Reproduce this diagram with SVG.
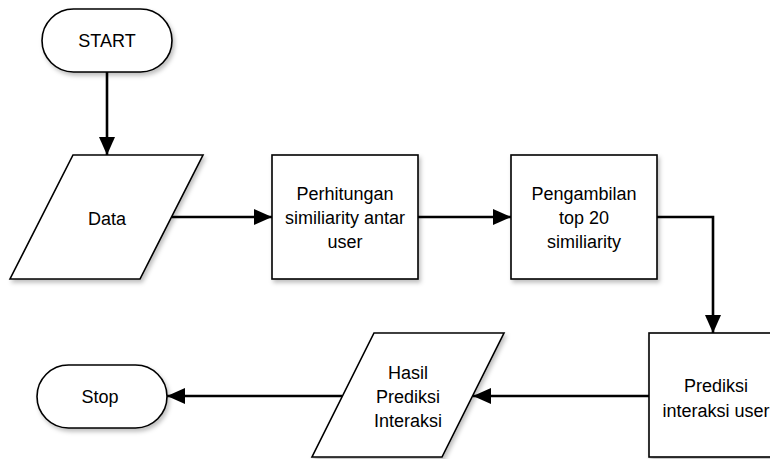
<svg xmlns="http://www.w3.org/2000/svg" width="770" height="459" viewBox="0 0 770 459">
<style>
.shape{fill:#ffffff;stroke:#000000;stroke-width:1.6;filter:url(#sh)}
.lbl{font-family:"Liberation Sans",Arial,sans-serif;font-size:18px;fill:#000000;text-anchor:middle}
.conn{fill:none;stroke:#000000;stroke-width:2.6}
</style>
<defs>
<filter id="sh" x="-10%" y="-10%" width="130%" height="130%">
<feDropShadow dx="2" dy="3" stdDeviation="2" flood-color="#000000" flood-opacity="0.25"/>
</filter>
<marker id="ah" markerUnits="userSpaceOnUse" markerWidth="19" markerHeight="17" refX="18" refY="8" orient="auto" viewBox="0 0 19 17">
<path d="M0,0 L18,8 L0,16 Z" fill="#000000"/>
</marker>
</defs>
<rect width="770" height="459" fill="#ffffff"/>
<g id="start">
<rect class="shape" x="42" y="9" width="130" height="63" rx="31.5" ry="31.5"/>
<text class="lbl" x="107" y="47">START</text>
</g>
<g id="data">
<polygon class="shape" points="73,155 203,155 140,279 10,279"/>
<text class="lbl" x="107" y="225">Data</text>
</g>
<g id="perhitungan">
<rect class="shape" x="272" y="155" width="146" height="124"/>
<text class="lbl" x="345" y="200">Perhitungan</text>
<text class="lbl" x="345" y="224">similiarity antar</text>
<text class="lbl" x="345" y="248">user</text>
</g>
<g id="pengambilan">
<rect class="shape" x="511" y="155" width="146" height="124"/>
<text class="lbl" x="584" y="200">Pengambilan</text>
<text class="lbl" x="584" y="224">top 20</text>
<text class="lbl" x="584" y="248">similiarity</text>
</g>
<g id="prediksi">
<rect class="shape" x="649" y="333" width="146" height="124"/>
<text class="lbl" x="716" y="392">Prediksi</text>
<text class="lbl" x="716" y="417">interaksi user</text>
</g>
<g id="hasil">
<polygon class="shape" points="374,333 504,333 442,457 312,457"/>
<text class="lbl" x="408" y="379">Hasil</text>
<text class="lbl" x="408" y="403">Prediksi</text>
<text class="lbl" x="408" y="427">Interaksi</text>
</g>
<g id="stop">
<rect class="shape" x="37" y="365" width="130" height="63" rx="31.5" ry="31.5"/>
<text class="lbl" x="100" y="403">Stop</text>
</g>
<g id="connectors">
<path class="conn" d="M107,72 L107,155" marker-end="url(#ah)"/>
<path class="conn" d="M172,217 L272,217" marker-end="url(#ah)"/>
<path class="conn" d="M418,217 L511,217" marker-end="url(#ah)"/>
<path class="conn" d="M657,217 L713,217 L713,333" marker-end="url(#ah)"/>
<path class="conn" d="M649,396 L473,396" marker-end="url(#ah)"/>
<path class="conn" d="M342,396 L167,396" marker-end="url(#ah)"/>
</g>
</svg>
